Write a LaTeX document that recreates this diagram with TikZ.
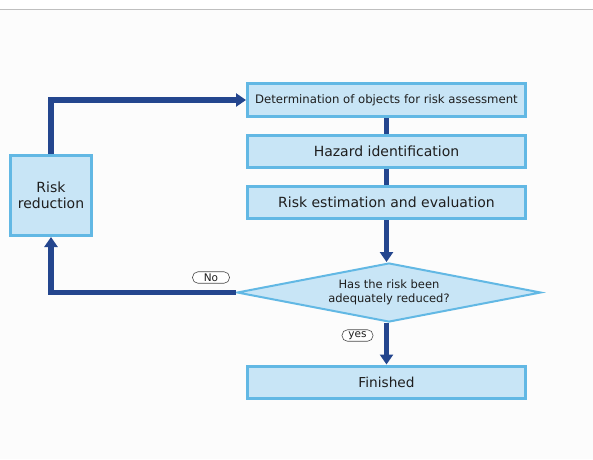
\documentclass[tikz,border=0pt]{standalone}
\usepackage{fontspec}
\setmainfont{DejaVu Sans}
\usepackage{tikz}
\usetikzlibrary{arrows.meta,positioning,shapes.geometric}
\definecolor{boxfill}{HTML}{C8E5F6}
\definecolor{boxline}{HTML}{62B8E4}
\definecolor{flowblue}{HTML}{24468E}
\definecolor{inkgray}{HTML}{1E1E1E}
\tikzset{
  stepbox/.style={draw=boxline,fill=boxfill,line width=3pt,minimum width=278pt,
    minimum height=32pt,inner sep=0pt,text=inkgray,font=\fontsize{14}{16}\selectfont},
  decbox/.style={diamond,draw=boxline,fill=boxfill,line width=2pt,aspect=5,
    minimum width=304pt,minimum height=59pt,inner sep=0pt,align=center,
    text=inkgray,font=\fontsize{11.5}{14}\selectfont},
  tag/.style={draw=inkgray!80,fill=white,rounded corners=5.5pt,line width=0.6pt,
    minimum width=37pt,minimum height=11.5pt,inner sep=0pt,text=inkgray,
    font=\fontsize{10.5}{11}\selectfont},
  link/.style={draw=flowblue,line width=5.5pt},
  flow/.style={link,-{Triangle[length=10pt,width=13pt]}}
}
\begin{document}
\begin{tikzpicture}[x=1pt,y=-1pt]
\useasboundingbox (0,0) rectangle (593,459);
\fill[white] (0,0) rectangle (593,459);
\fill[black!1] (0,10) rectangle (593,459);
\draw[black!25,line width=1.2pt] (0,9.5) -- (593,9.5);
% main column
\node[stepbox,font=\fontsize{11.7}{14}\selectfont,minimum height=33pt] (det) at (386.5,100) {Determination of objects for risk assessment};
\node[stepbox] (haz) at (386.5,151) {Hazard identification};
\node[stepbox] (est) at (386.5,202.5) {Risk estimation and evaluation};
\node[decbox] (dec) at (389,292.5) {Has the risk been\\adequately reduced?};
\node[stepbox,font=\fontsize{13.7}{16}\selectfont] (fin) at (386.5,382) {Finished};
% side box
\node[stepbox,minimum width=81pt,minimum height=80pt,align=center] (red) at (51,195.5) {Risk\\reduction};
\draw[link] (det) -- (haz);
\draw[link] (haz) -- (est);
\draw[flow] (est.south -| det) -- (dec.north -| det);
\draw[flow] (dec.south -| det) -- (fin);
\draw[flow] (dec.west) -| (red.south);
\draw[flow] (red.north) |- (det.west);
\node[tag] (no) at (211,277.5) {No};
\node[tag,minimum width=31pt] (yes) at (357.5,335.5) {yes};
\end{tikzpicture}
\end{document}
